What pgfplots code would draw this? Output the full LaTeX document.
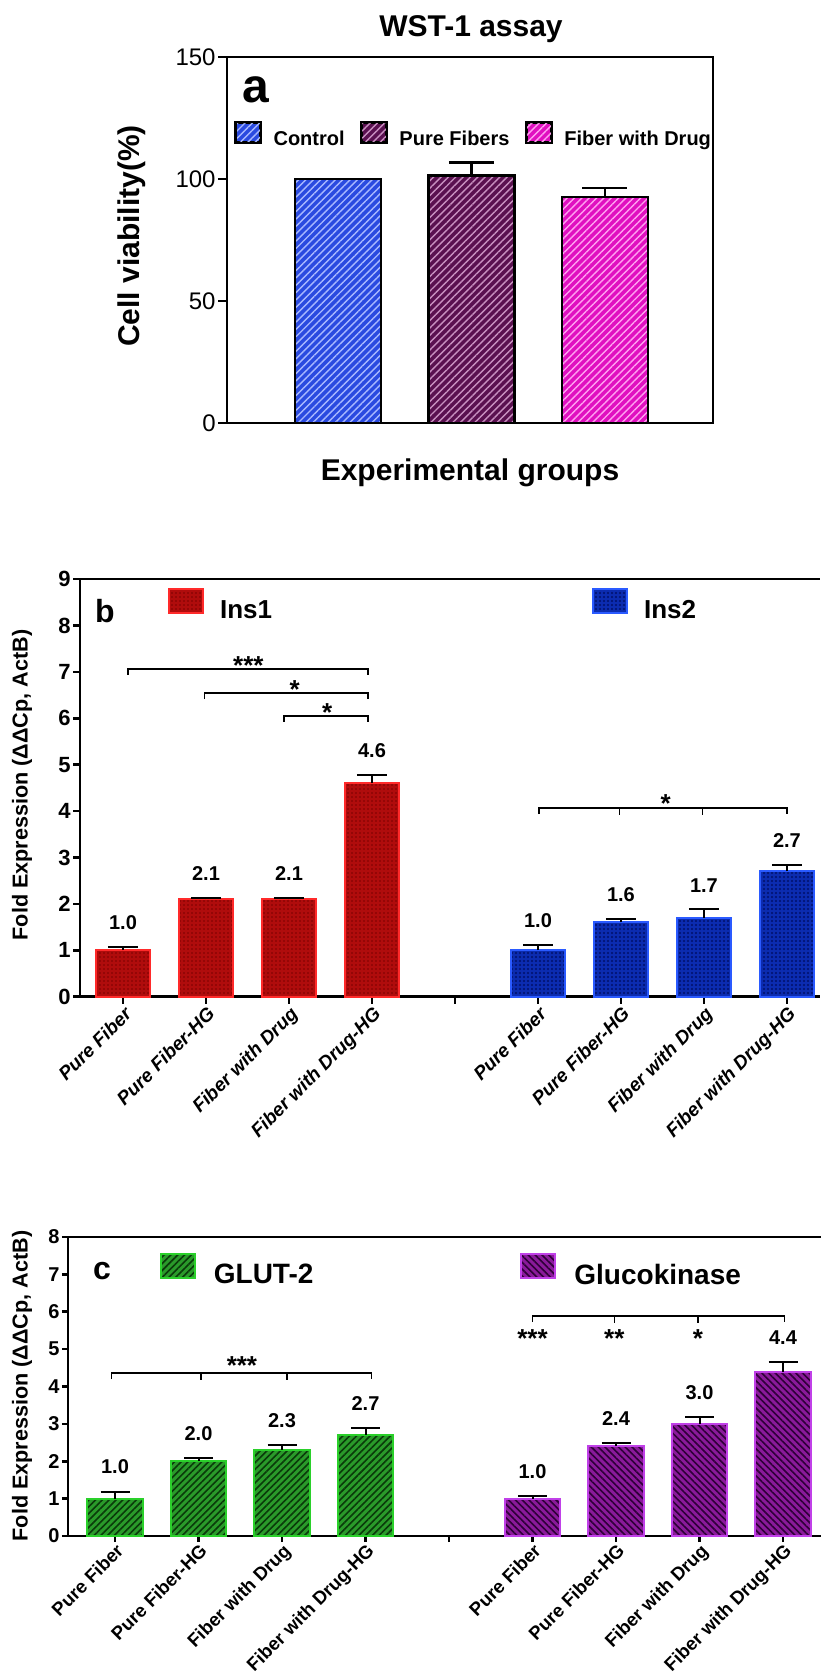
\documentclass[border=0pt]{standalone}
\usepackage{fontspec}
\setmainfont{Liberation Sans}
\usepackage{pgfplots}
\pgfplotsset{compat=1.18}
\usetikzlibrary{patterns.meta}
\newcommand{\fs}[1]{\fontsize{#1}{#1}\selectfont}
\definecolor{ctrlfill}{HTML}{2A4AE0}
\definecolor{ctrlpat}{HTML}{A8B8FF}
\definecolor{purefill}{HTML}{5A1050}
\definecolor{purepat}{HTML}{C890C0}
\definecolor{drugfill}{HTML}{E010C0}
\definecolor{drugpat}{HTML}{FFA0F0}
\definecolor{insAfill}{HTML}{B00C0C}
\definecolor{insApat}{HTML}{7A0000}
\definecolor{insAedge}{HTML}{FF2A2A}
\definecolor{insBfill}{HTML}{0C2CB0}
\definecolor{insBpat}{HTML}{00106A}
\definecolor{insBedge}{HTML}{2A5AFF}
\definecolor{glutfill}{HTML}{2A9A2A}
\definecolor{glutpat}{HTML}{0A3A0A}
\definecolor{glutedge}{HTML}{2AD02A}
\definecolor{gckfill}{HTML}{8A1A9A}
\definecolor{gckpat}{HTML}{2E0038}
\definecolor{gckedge}{HTML}{C040E8}
\tikzset{
 ctrlbar/.style={preaction={fill=ctrlfill}, pattern={Lines[angle=45,distance=2.6pt,line width=0.7pt]}, pattern color=ctrlpat, draw=black},
 purebar/.style={preaction={fill=purefill}, pattern={Lines[angle=45,distance=2.6pt,line width=0.7pt]}, pattern color=purepat, draw=black},
 drugbar/.style={preaction={fill=drugfill}, pattern={Lines[angle=45,distance=2.6pt,line width=0.7pt]}, pattern color=drugpat, draw=black},
 insAbar/.style={preaction={fill=insAfill}, pattern={Dots[distance=2pt,radius=0.45pt]}, pattern color=insApat, draw=insAedge},
 insBbar/.style={preaction={fill=insBfill}, pattern={Dots[distance=2pt,radius=0.6pt]}, pattern color=insBpat, draw=insBedge},
 glutbar/.style={preaction={fill=glutfill}, pattern={Lines[angle=45,distance=2.4pt,line width=0.8pt]}, pattern color=glutpat, draw=glutedge},
 gckbar/.style={preaction={fill=gckfill}, pattern={Lines[angle=-45,distance=2.4pt,line width=0.8pt]}, pattern color=gckpat, draw=gckedge},
}
\begin{document}
\begin{tikzpicture}
\useasboundingbox (0pt,0pt) rectangle (411pt,-838.5pt);

%%%%%%%%%%%%%%%% Panel a
\begin{axis}[at={(113.5pt,-211.5pt)}, anchor=south west, scale only axis,
 width=243pt, height=183pt,
 xmin=0.17, xmax=3.81, ymin=0, ymax=150,
 xtick=\empty, ytick={0,50,100,150},
 axis line style={line width=1.4pt, black},
 tick align=outside, major tick length=4.5pt, ytick pos=left,
 tick style={line width=1.4pt, black},
 /pgf/number format/assume math mode=true,
 yticklabel style={font=\fs{12}, inner sep=1pt},
 clip=false,
 legend columns=3,
 legend style={draw=none, fill=none, at={(0.016,0.787)}, anchor=west,
   font=\bfseries\fs{10}, inner sep=0pt, outer sep=0pt, nodes={inner sep=0pt},
   /tikz/every odd column/.append style={column sep=6pt},
   /tikz/every even column/.append style={column sep=8pt}},
]
\addplot[ybar, bar width=43pt, bar shift=0pt, ctrlbar, line width=1.2pt,
 legend image code/.code={\draw[ctrlbar, line width=0.9pt] (0pt,-1.5pt) rectangle (12.5pt,8.5pt);},
 error bars/y dir=plus, error bars/y explicit,
 error bars/error bar style={draw=black, line width=1.2pt},
 error bars/error mark options={rotate=90, mark size=11.25pt, line width=1.2pt, draw=black}]
 coordinates {(1,100) +- (0,0)};
\addlegendentry{Control}
\addplot[ybar, bar width=43pt, bar shift=0pt, purebar, line width=1.2pt,
 legend image code/.code={\draw[purebar, line width=0.9pt] (0pt,-1.5pt) rectangle (12.5pt,8.5pt);},
 error bars/y dir=plus, error bars/y explicit,
 error bars/error bar style={draw=black, line width=1.2pt},
 error bars/error mark options={rotate=90, mark size=11.25pt, line width=1.2pt, draw=black}]
 coordinates {(2,101.5) +- (0,5.2)};
\addlegendentry{Pure Fibers}
\addplot[ybar, bar width=43pt, bar shift=0pt, drugbar, line width=1.2pt,
 legend image code/.code={\draw[drugbar, line width=0.9pt] (0pt,-1.5pt) rectangle (12.5pt,8.5pt);},
 error bars/y dir=plus, error bars/y explicit,
 error bars/error bar style={draw=black, line width=1.2pt},
 error bars/error mark options={rotate=90, mark size=11.25pt, line width=1.2pt, draw=black}]
 coordinates {(3,92.7) +- (0,3.7)};
\addlegendentry{Fiber with Drug}
\end{axis}

%%%%%%%%%%%%%%%% Panel b
\begin{axis}[at={(40pt,-498.35pt)}, anchor=south west, scale only axis,
 width=370pt, height=208.85pt,
 xmin=-0.518, xmax=8.398, ymin=0, ymax=9,
 axis x line*=box, axis y line*=left,
 xtick={0,1,2,3,4,5,6,7,8},
 xticklabels={Pure Fiber,Pure Fiber-HG,Fiber with Drug,Fiber with Drug-HG,{},Pure Fiber,Pure Fiber-HG,Fiber with Drug,Fiber with Drug-HG},
 ytick={0,1,2,3,4,5,6,7,8,9},
 xtick pos=bottom, ytick pos=left,
 tick align=outside, major tick length=3.5pt,
 tick style={line width=1.3pt, black},
 axis line style={line width=1.3pt, black},
 /pgf/number format/assume math mode=true,
 yticklabel style={font=\bfseries\fs{11}, inner sep=1pt},
 xticklabel style={font=\bfseries\itshape\fs{9.5}, rotate=45, anchor=north east, inner sep=0.5pt},
 clip=false,
 legend columns=2,
 legend style={draw=none, fill=none, at={(0.119,0.938)}, anchor=west,
   font=\bfseries\fs{13}, inner sep=0pt, outer sep=0pt, nodes={inner sep=0pt},
   /tikz/every odd column/.append style={column sep=8pt},
   /tikz/every even column/.append style={column sep=160pt}},
]
\addplot[ybar, bar width=27pt, bar shift=0pt, insAbar, line width=1pt,
 legend image code/.code={\draw[insAbar, line width=1pt] (0pt,-1.35pt) rectangle (17pt,10.65pt);},
 error bars/y dir=plus, error bars/y explicit,
 error bars/error bar style={draw=black, line width=1pt},
 error bars/error mark options={rotate=90, mark size=7.5pt, line width=1pt, draw=black}]
 coordinates {(0,1.0) +- (0,0.07) (1,2.1) +- (0,0.02) (2,2.1) +- (0,0.02) (3,4.6) +- (0,0.18)};
\addlegendentry{Ins1}
\addplot[ybar, bar width=27pt, bar shift=0pt, insBbar, line width=1pt,
 legend image code/.code={\draw[insBbar, line width=1pt] (0pt,-1.35pt) rectangle (17pt,10.65pt);},
 error bars/y dir=plus, error bars/y explicit,
 error bars/error bar style={draw=black, line width=1pt},
 error bars/error mark options={rotate=90, mark size=7.5pt, line width=1pt, draw=black}]
 coordinates {(5,1.0) +- (0,0.11) (6,1.6) +- (0,0.07) (7,1.7) +- (0,0.18) (8,2.7) +- (0,0.13)};
\addlegendentry{Ins2}
\addplot[forget plot, draw=none, mark=none, nodes near coords={\pgfplotspointmeta}, point meta=explicit symbolic,
 every node near coord/.append style={font=\bfseries\fs{10}, inner sep=0pt, anchor=south, yshift=8.5pt, black}]
 coordinates {(0,1.07)[1.0] (1,2.12)[2.1] (2,2.12)[2.1] (3,4.78)[4.6] (5,1.11)[1.0] (6,1.67)[1.6] (7,1.88)[1.7] (8,2.83)[2.7]};
% significance brackets
\draw[line width=0.75pt] ([yshift=-3pt]axis cs:0.06,7.066) -- (axis cs:0.06,7.066) -- (axis cs:2.95,7.066) -- ([yshift=-3pt]axis cs:2.95,7.066);
\draw[line width=0.75pt] ([yshift=-3pt]axis cs:0.98,6.544) -- (axis cs:0.98,6.544) -- (axis cs:2.95,6.544) -- ([yshift=-3pt]axis cs:2.95,6.544);
\draw[line width=0.75pt] ([yshift=-3pt]axis cs:1.94,6.049) -- (axis cs:1.94,6.049) -- (axis cs:2.95,6.049) -- ([yshift=-3pt]axis cs:2.95,6.049);
\node[anchor=base, inner sep=0pt, font=\bfseries\fs{13}] at ([yshift=-2.8pt]axis cs:1.51,7.066) {***};
\node[anchor=base, inner sep=0pt, font=\bfseries\fs{13}] at ([yshift=-2.8pt]axis cs:2.07,6.544) {*};
\node[anchor=base, inner sep=0pt, font=\bfseries\fs{13}] at ([yshift=-2.8pt]axis cs:2.46,6.049) {*};
\draw[line width=0.75pt] ([yshift=-3pt]axis cs:5.01,4.066) -- (axis cs:5.01,4.066) -- (axis cs:8.0,4.066) -- ([yshift=-3pt]axis cs:8.0,4.066);
\draw[line width=0.75pt] (axis cs:5.98,4.066) -- ([yshift=-3.5pt]axis cs:5.98,4.066);
\draw[line width=0.75pt] (axis cs:6.98,4.066) -- ([yshift=-3.5pt]axis cs:6.98,4.066);
\node[anchor=base, inner sep=0pt, font=\bfseries\fs{13}] at ([yshift=-2.3pt]axis cs:6.54,4.066) {*};
\end{axis}

%%%%%%%%%%%%%%%% Panel c
\begin{axis}[at={(34pt,-768pt)}, anchor=south west, scale only axis,
 width=376.5pt, height=149.5pt,
 xmin=-0.563, xmax=8.455, ymin=0, ymax=8,
 axis x line*=box, axis y line*=left,
 xtick={0,1,2,3,4,5,6,7,8},
 xticklabels={Pure Fiber,Pure Fiber-HG,Fiber with Drug,Fiber with Drug-HG,{},Pure Fiber,Pure Fiber-HG,Fiber with Drug,Fiber with Drug-HG},
 ytick={0,1,2,3,4,5,6,7,8},
 xtick pos=bottom, ytick pos=left,
 tick align=outside, major tick length=3pt,
 tick style={line width=1.3pt, black},
 axis line style={line width=1.3pt, black},
 /pgf/number format/assume math mode=true,
 yticklabel style={font=\bfseries\fs{10}, inner sep=1pt},
 xticklabel style={font=\bfseries\fs{9.3}, rotate=45, anchor=north east, inner sep=0pt},
 clip=false,
 legend columns=2,
 legend style={draw=none, fill=none, at={(0.122,0.890)}, anchor=west,
   font=\bfseries\fs{14}, inner sep=0pt, outer sep=0pt, nodes={inner sep=0pt},
   /tikz/every odd column/.append style={column sep=9pt},
   /tikz/every even column/.append style={column sep=103.5pt}},
]
\addplot[ybar, bar width=27.75pt, bar shift=0pt, glutbar, line width=1pt,
 legend image code/.code={\draw[glutbar, line width=1pt] (0pt,-1pt) rectangle (17pt,11pt);},
 error bars/y dir=plus, error bars/y explicit,
 error bars/error bar style={draw=black, line width=1pt},
 error bars/error mark options={rotate=90, mark size=7.25pt, line width=1pt, draw=black}]
 coordinates {(0,1.0) +- (0,0.19) (1,2.0) +- (0,0.08) (2,2.3) +- (0,0.13) (3,2.7) +- (0,0.19)};
\addlegendentry{GLUT-2}
\addplot[ybar, bar width=27.75pt, bar shift=0pt, gckbar, line width=1pt,
 legend image code/.code={\draw[gckbar, line width=1pt] (0pt,-1pt) rectangle (17pt,11pt);},
 error bars/y dir=plus, error bars/y explicit,
 error bars/error bar style={draw=black, line width=1pt},
 error bars/error mark options={rotate=90, mark size=7.25pt, line width=1pt, draw=black}]
 coordinates {(5,1.0) +- (0,0.08) (6,2.4) +- (0,0.08) (7,3.0) +- (0,0.19) (8,4.4) +- (0,0.25)};
\addlegendentry{Glucokinase}
\addplot[forget plot, draw=none, mark=none, nodes near coords={\pgfplotspointmeta}, point meta=explicit symbolic,
 every node near coord/.append style={font=\bfseries\fs{10}, inner sep=0pt, anchor=south, yshift=8.5pt, black}]
 coordinates {(0,1.19)[1.0] (1,2.08)[2.0] (2,2.43)[2.3] (3,2.89)[2.7] (5,1.08)[1.0] (6,2.48)[2.4] (7,3.19)[3.0] (8,4.65)[4.4]};
\draw[line width=0.75pt] ([yshift=-3pt]axis cs:-0.04,4.36) -- (axis cs:-0.04,4.36) -- (axis cs:3.07,4.36) -- ([yshift=-3pt]axis cs:3.07,4.36);
\draw[line width=0.75pt] (axis cs:1.03,4.36) -- ([yshift=-3.5pt]axis cs:1.03,4.36);
\draw[line width=0.75pt] (axis cs:2.06,4.36) -- ([yshift=-3.5pt]axis cs:2.06,4.36);
\node[anchor=base, inner sep=0pt, font=\bfseries\fs{13}] at ([yshift=-0.8pt]axis cs:1.52,4.36) {***};
\draw[line width=0.75pt] ([yshift=-3pt]axis cs:5.0,5.886) -- (axis cs:5.0,5.886) -- (axis cs:8.02,5.886) -- ([yshift=-3pt]axis cs:8.02,5.886);
\draw[line width=0.75pt] (axis cs:5.98,5.886) -- ([yshift=-3.5pt]axis cs:5.98,5.886);
\draw[line width=0.75pt] (axis cs:6.98,5.886) -- ([yshift=-3.5pt]axis cs:6.98,5.886);
\node[anchor=base, inner sep=0pt, font=\bfseries\fs{13}] at ([yshift=-15.5pt]axis cs:5.0,5.886) {***};
\node[anchor=base, inner sep=0pt, font=\bfseries\fs{13}] at ([yshift=-15.5pt]axis cs:5.98,5.886) {**};
\node[anchor=base, inner sep=0pt, font=\bfseries\fs{13}] at ([yshift=-15.5pt]axis cs:6.98,5.886) {*};
\end{axis}

%%%%%%%%%%%%%%%% texts
\node[anchor=base, font=\bfseries\fs{15}] at (235.5pt,-18.35pt) {WST-1 assay};
\node[anchor=base, font=\bfseries\fs{15}] at (235pt,-240pt) {Experimental groups};
\node[rotate=90, font=\bfseries\fs{15}] at (66pt,-118pt) {Cell viability(\%)};
\node[font=\bfseries\fs{24}, inner sep=0pt] at (128pt,-44.75pt) {a};
\node[font=\bfseries\fs{16}, inner sep=0pt] at (52.5pt,-305.75pt) {b};
\node[font=\bfseries\fs{16}, inner sep=0pt] at (51pt,-635.75pt) {c};
\node[rotate=90, font=\bfseries\fs{10.8}] at (11pt,-392.5pt) {Fold Expression (ΔΔCp, ActB)};
\node[rotate=90, font=\bfseries\fs{10.8}] at (11pt,-693pt) {Fold Expression (ΔΔCp, ActB)};
\end{tikzpicture}
\end{document}
